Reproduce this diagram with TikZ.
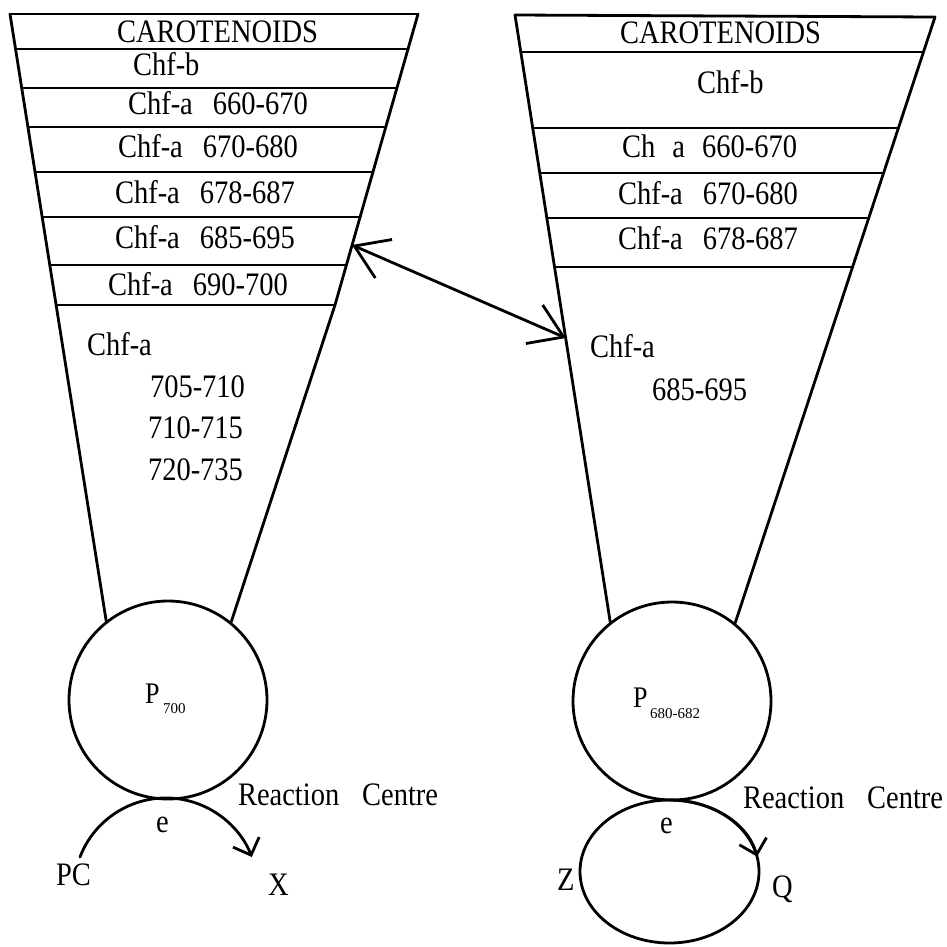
\documentclass[tikz,border=0pt]{standalone}
\usepackage{fontspec}
\usepackage{graphicx}
\setmainfont{Liberation Serif}
\usetikzlibrary{arrows.meta,shapes.geometric}
\newcommand{\vtx}[1]{\scalebox{1}[1.15]{#1}}
\begin{document}
\begin{tikzpicture}[x=1pt,y=1pt,
  ln/.style={line width=2.8pt, line cap=round, line join=round},
  lab/.style={anchor=base west, inner sep=0pt, outer sep=0pt, font=\fontsize{28.5}{32}\selectfont},
  plab/.style={anchor=base west, inner sep=0pt, outer sep=0pt, font=\fontsize{26}{28}\selectfont},
  sublab/.style={anchor=base west, inner sep=0pt, outer sep=0pt, font=\fontsize{15}{16}\selectfont},
  rcirc/.style={draw, circle, line width=2.8pt, minimum size=198pt, inner sep=0pt},
  bigtip/.style={{Straight Barb[length=32pt,width=42pt]}-{Straight Barb[length=32pt,width=42pt]}},
  smalltip/.style={-{Straight Barb[length=14pt,width=28pt]}}
]
\useasboundingbox (0,0) rectangle (947,-946);

% ---------- circles (reaction centres) ----------
\node[rcirc] (lc) at (168,-700) {};
\node[rcirc] (rc) at (672,-701) {};
\node[draw, ellipse, line width=2.8pt, minimum width=179pt, minimum height=143pt, inner sep=0pt] (el) at (669.5,-871.5) {};

% ---------- left funnel ----------
\coordinate (LTL) at (10,-14);
\coordinate (LTR) at (418,-14);
\coordinate (LRM) at (335,-305);
\draw[ln] (LTL) -- (LTR);
\draw[ln] (LTL) -- (lc.128);
\draw[ln] (LTR) -- (LRM) -- (lc.51);
\draw[ln] (15.6,-49) -- (408.0,-49);
\draw[ln] (21.8,-88) -- (396.9,-88);
\draw[ln] (28.0,-127) -- (385.8,-127);
\draw[ln] (35.2,-172) -- (372.9,-172);
\draw[ln] (42.4,-217) -- (360.1,-217);
\draw[ln] (50.0,-265) -- (346.4,-265);
\draw[ln] (56.6,-305) -- (335.0,-305);

\node[lab] (l1) at (117,-42) {\vtx{CAROTENOIDS}};
\node[lab] (l2) at (133,-75) {\vtx{Chf-b}};
\node[lab] (l3) at (128,-114) {\vtx{Chf-a\hspace{0.7em}660-670}};
\node[lab] (l4) at (118,-157) {\vtx{Chf-a\hspace{0.7em}670-680}};
\node[lab] (l5) at (115,-203) {\vtx{Chf-a\hspace{0.7em}678-687}};
\node[lab] (l6) at (115,-248) {\vtx{Chf-a\hspace{0.7em}685-695}};
\node[lab] (l7) at (108,-295) {\vtx{Chf-a\hspace{0.7em}690-700}};
\node[lab] (l8) at (87,-355) {\vtx{Chf-a}};
\node[lab] (l9) at (150,-397) {\vtx{705-710}};
\node[lab] (l10) at (148,-438) {\vtx{710-715}};
\node[lab] (l11) at (148,-480) {\vtx{720-735}};

% ---------- right funnel ----------
\coordinate (RTL) at (515,-15);
\coordinate (RTR) at (935,-17);
\draw[ln] (RTL) -- (RTR);
\draw[ln] (RTL) -- (rc.128);
\draw[ln] (RTR) -- (rc.51);
\draw[ln] (520.8,-52) -- (922.7,-52);
\draw[ln] (532.8,-128) -- (897.5,-128);
\draw[ln] (539.9,-173) -- (882.6,-173);
\draw[ln] (547.0,-218) -- (867.8,-218);
\draw[ln] (554.7,-267) -- (851.6,-267);

\node[lab] (r1) at (620,-43) {\vtx{CAROTENOIDS}};
\node[lab] (r2) at (697,-93) {\vtx{Chf-b}};
\node[lab] (r3) at (622,-157) {\vtx{Ch\hspace{0.6em}a\hspace{0.6em}660-670}};
\node[lab] (r4) at (618,-204) {\vtx{Chf-a\hspace{0.7em}670-680}};
\node[lab] (r5) at (618,-249) {\vtx{Chf-a\hspace{0.7em}678-687}};
\node[lab] (r6) at (590,-357) {\vtx{Chf-a}};
\node[lab] (r7) at (652,-400) {\vtx{685-695}};

% ---------- double arrow between funnels ----------
\coordinate (al) at (352,-245);
\coordinate (ar) at (566,-338);
\draw[ln, bigtip] (al) -- (ar);

% ---------- reaction centre labels ----------
\node[plab] (p1) at (145,-703) {\vtx{P}};
\node[sublab] (p1s) at (163,-713) {700};
\node[plab] (p2) at (633,-707) {\vtx{P}};
\node[sublab] (p2s) at (650,-718) {680-682};

% left electron transfer
\coordinate (lpc) at (80,-857);
\draw[ln, smalltip] (lpc) arc[start angle=159, end angle=21, radius=92];
\node[lab] (le) at (156,-832) {\vtx{e}};
\node[lab] (lPC) at (56,-885) {\vtx{PC}};
\node[lab] (lX) at (268,-895) {\vtx{X}};
\node[lab] (lrc) at (238,-805) {\vtx{Reaction\hspace{0.8em}Centre}};

% right electron transfer
\coordinate (etop) at (669.5,-800);
\draw[ln, smalltip] (etop) arc[start angle=90, end angle=12, x radius=89.5, y radius=71.5];
\node[lab] (re) at (660,-833) {\vtx{e}};
\node[lab] (rZ) at (557,-890) {\vtx{Z}};
\node[lab] (rQ) at (772,-897) {\vtx{Q}};
\node[lab] (rrc) at (743,-808) {\vtx{Reaction\hspace{0.8em}Centre}};
\end{tikzpicture}
\end{document}
